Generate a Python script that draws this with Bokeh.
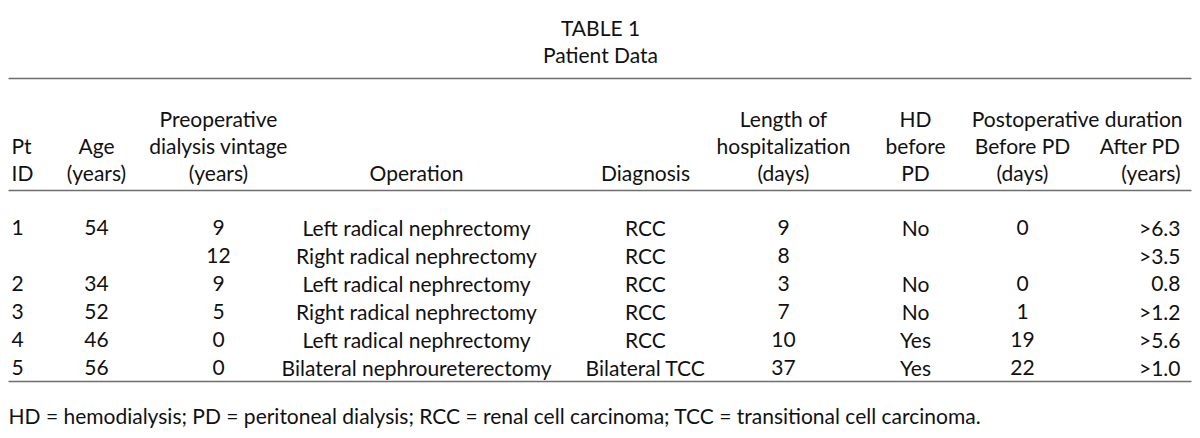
from bokeh.plotting import figure
from bokeh.models import ColumnDataSource, Range1d
from bokeh.core.properties import value
from bokeh.embed import file_html
from bokeh.resources import INLINE

# ---- data ----
title_lines = ["TABLE 1", "Patient Data"]
pt_id = ["1", "", "2", "3", "4", "5"]
age = ["54", "", "34", "52", "46", "56"]
vintage = ["9", "12", "9", "5", "0", "0"]
operation = ["Left radical nephrectomy", "Right radical nephrectomy", "Left radical nephrectomy",
             "Right radical nephrectomy", "Left radical nephrectomy", "Bilateral nephroureterectomy"]
diagnosis = ["RCC", "RCC", "RCC", "RCC", "RCC", "Bilateral TCC"]
los_days = ["9", "8", "3", "7", "10", "37"]
hd_before = ["No", "", "No", "No", "Yes", "Yes"]
before_pd = ["0", "", "0", "1", "19", "22"]
after_pd = [">6.3", ">3.5", "0.8", ">1.2", ">5.6", ">1.0"]

headers = [
    ["", "Pt", "ID"],
    ["", "Age", "(years)"],
    ["Preoperative", "dialysis vintage", "(years)"],
    ["", "", "Operation"],
    ["", "", "Diagnosis"],
    ["Length of", "hospitalization", "(days)"],
    ["HD", "before", "PD"],
    ["", "Before PD", "(days)"],
    ["", "After PD", "(years)"],
]
span_header = "Postoperative duration"
footnote = ("HD = hemodialysis; PD = peritoneal dialysis; RCC = renal cell carcinoma; "
            "TCC = transitional cell carcinoma.")

# ---- layout (styles / positions) ----
FONT = "Lato"
FS = "21px"
COLOR = "#111111"
col_x = [11, 96, 218, 416, 645, 783, 915, 1022, 1180]
col_align = ["left", "center", "center", "center", "center", "center", "center", "center", "right"]
columns = [pt_id, age, vintage, operation, diagnosis, los_days, hd_before, before_pd, after_pd]

W, H = 1192, 430
p = figure(width=W, height=H, output_backend="svg", toolbar_location=None,
           x_range=Range1d(0, W), y_range=Range1d(H, 0),
           min_border=0, outline_line_color=None)
p.axis.visible = False
p.grid.visible = False
p.background_fill_color = "white"
p.border_fill_color = "white"


def put(xs, ys, texts, align):
    src = ColumnDataSource(dict(x=xs, y=ys, t=texts))
    p.text(x="x", y="y", text="t", source=src, text_font=value(FONT), text_font_size=FS,
           text_color=COLOR, text_align=align, text_baseline="alphabetic")


# title
put([600, 600], [27, 54], title_lines, "center")

# rules
line_y = [78, 190, 381]
for ly in line_y:
    p.line(x=[8, 1191], y=[ly, ly], line_color="#6e6e6e", line_width=1.5)

# headers
hdr_base = [118, 145, 172]
for cx, al, hd in zip(col_x, col_align, headers):
    xs, ys, ts = [], [], []
    for k, t in enumerate(hd):
        if t:
            xs.append(cx)
            ys.append(hdr_base[k])
            ts.append(t)
    put(xs, ys, ts, al)
put([1182], [118], [span_header], "right")

# body rows
row_y = [227 + 28 * i for i in range(len(operation))]
for cx, al, col in zip(col_x, col_align, columns):
    put([cx] * len(col), row_y, col, al)

# footnote
put([8], [415], [footnote], "left")

open("out.html", "w").write(file_html(p, INLINE))
